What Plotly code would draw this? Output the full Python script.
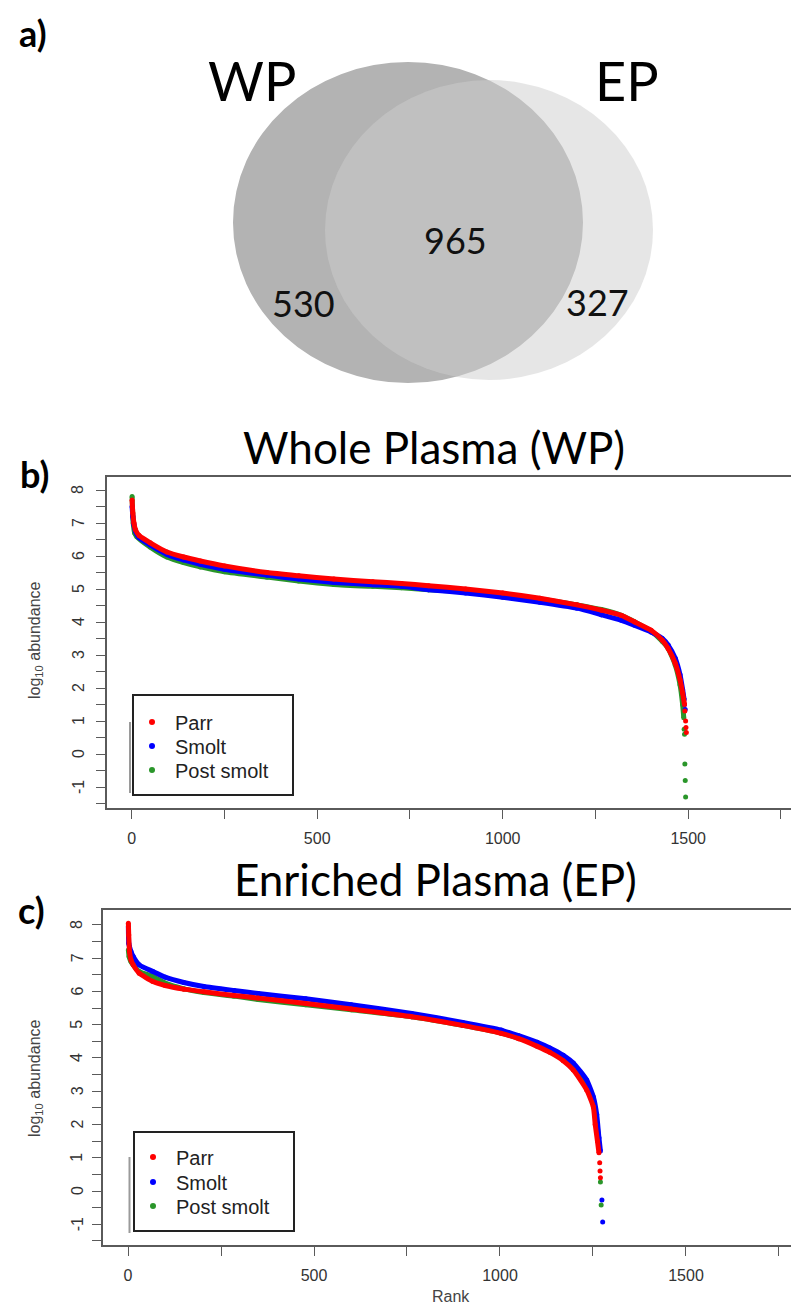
import plotly.graph_objects as go

W, H = 799, 1306
OFF = 8  # page offset of the figure (browser body margin)

# ---------------- data ----------------
venn_names = ["WP", "EP"]
venn_counts = [530, 965, 327]  # WP only, both, EP only

groups = ["Parr", "Smolt", "Post smolt"]
colors = ["#ff0000", "#0000ff", "#2a962a"]

# Panel b: Whole Plasma (rank, log10 abundance)
wp_rank_parr = [1, 3, 6, 10, 20, 50, 95, 140, 185, 250, 365, 450, 545, 650, 727, 800, 900, 1000, 1100, 1200, 1266, 1320, 1356, 1400, 1430, 1446, 1465, 1478, 1485, 1490]
wp_parr = [7.7, 7.3, 7.0, 6.8, 6.62, 6.4, 6.12, 5.97, 5.85, 5.7, 5.5, 5.4, 5.3, 5.22, 5.17, 5.1, 5.0, 4.88, 4.72, 4.52, 4.36, 4.2, 4.0, 3.75, 3.45, 3.2, 2.75, 2.25, 1.85, 1.5]
wp_tail_rank_parr = [1491, 1493, 1494, 1495]
wp_tail_parr = [1.3, 1.0, 0.8, 0.65]

wp_rank_smolt = [1, 3, 6, 10, 20, 50, 95, 140, 185, 250, 365, 450, 545, 650, 727, 800, 900, 1000, 1100, 1200, 1266, 1320, 1356, 1400, 1430, 1446, 1465, 1478, 1485, 1489]
wp_smolt = [7.5, 7.2, 6.95, 6.75, 6.55, 6.33, 6.05, 5.88, 5.75, 5.6, 5.42, 5.3, 5.2, 5.13, 5.08, 4.98, 4.88, 4.75, 4.6, 4.42, 4.22, 4.05, 3.9, 3.7, 3.5, 3.3, 2.9, 2.4, 1.95, 1.65]
wp_tail_rank_smolt = [1490, 1492]
wp_tail_smolt = [1.5, 1.35]

wp_rank_post = [1, 2, 4, 8, 14, 50, 95, 140, 185, 250, 365, 450, 545, 650, 727, 800, 900, 1000, 1100, 1200, 1266, 1320, 1356, 1400, 1430, 1446, 1465, 1478, 1485, 1488]
wp_post = [7.8, 7.5, 7.0, 6.7, 6.58, 6.27, 5.97, 5.8, 5.67, 5.52, 5.36, 5.24, 5.14, 5.08, 5.04, 4.98, 4.92, 4.82, 4.7, 4.52, 4.38, 4.2, 4.0, 3.72, 3.42, 3.2, 2.7, 2.1, 1.5, 1.1]
wp_tail_rank_post = [1489, 1490, 1491, 1492, 1493]
wp_tail_post = [0.75, 0.6, -0.3, -0.8, -1.3]

# Panel c: Enriched Plasma
ep_rank_parr = [1, 2, 4, 8, 14, 30, 67, 100, 150, 204, 285, 350, 478, 600, 763, 900, 1003, 1050, 1100, 1134, 1170, 1197, 1233, 1251, 1256, 1262, 1266]
ep_parr = [8.05, 7.7, 7.2, 6.95, 6.8, 6.55, 6.3, 6.18, 6.07, 5.99, 5.88, 5.8, 5.64, 5.47, 5.24, 4.98, 4.74, 4.58, 4.35, 4.17, 3.92, 3.64, 3.04, 2.53, 2.0, 1.5, 1.15]
ep_tail_rank_parr = [1268, 1269, 1270]
ep_tail_parr = [0.85, 0.6, 0.4]

ep_rank_smolt = [1, 2, 4, 8, 14, 30, 67, 100, 150, 204, 285, 350, 478, 600, 763, 900, 1003, 1050, 1100, 1134, 1170, 1197, 1233, 1251, 1260, 1266, 1270]
ep_smolt = [7.95, 7.45, 7.35, 7.2, 7.05, 6.8, 6.6, 6.43, 6.27, 6.15, 6.03, 5.94, 5.78, 5.6, 5.34, 5.07, 4.84, 4.67, 4.47, 4.3, 4.08, 3.85, 3.34, 2.83, 2.3, 1.6, 1.2]
ep_tail_rank_smolt = [1274, 1276]
ep_tail_smolt = [-0.27, -0.93]

ep_rank_post = [1, 3, 8, 14, 30, 67, 100, 150, 204, 285, 350, 478, 600, 763, 900, 1003, 1050, 1100, 1134, 1170, 1197, 1233, 1251, 1262, 1266]
ep_post = [7.25, 7.05, 6.9, 6.8, 6.6, 6.45, 6.25, 6.08, 5.97, 5.86, 5.76, 5.6, 5.45, 5.24, 4.98, 4.75, 4.6, 4.4, 4.2, 4.0, 3.78, 3.2, 2.6, 1.9, 1.3]
ep_tail_rank_post = [1270, 1272]
ep_tail_post = [0.27, -0.42]

x_major = [0, 500, 1000, 1500]
x_minor = [250, 750, 1250, 1750]
y_tickvals = [-1.5, -1, -0.5, 0, 0.5, 1, 1.5, 2, 2.5, 3, 3.5, 4, 4.5, 5, 5.5, 6, 6.5, 7, 7.5, 8]
y_labels = [-1, 0, 1, 2, 3, 4, 5, 6, 7, 8]


def fx(px):
    return (px - OFF) / W


def fy(py):
    return 1 - (py - OFF) / H


fig = go.Figure()

panels = [
    ("x", "y",
     [(wp_rank_parr, wp_parr, wp_tail_rank_parr, wp_tail_parr),
      (wp_rank_smolt, wp_smolt, wp_tail_rank_smolt, wp_tail_smolt),
      (wp_rank_post, wp_post, wp_tail_rank_post, wp_tail_post)]),
    ("x2", "y2",
     [(ep_rank_parr, ep_parr, ep_tail_rank_parr, ep_tail_parr),
      (ep_rank_smolt, ep_smolt, ep_tail_rank_smolt, ep_tail_smolt),
      (ep_rank_post, ep_post, ep_tail_rank_post, ep_tail_post)]),
]

for xa, ya, series in panels:
    # draw post smolt first, parr last (on top)
    for i in [2, 1, 0]:
        r, v, tr, tv = series[i]
        fig.add_trace(go.Scatter(
            x=r, y=v, mode="lines+markers", xaxis=xa, yaxis=ya, name=groups[i],
            line=dict(color=colors[i], width=5, shape="spline", smoothing=0.5),
            marker=dict(color=colors[i], size=5),
            showlegend=False, hoverinfo="skip"))
        fig.add_trace(go.Scatter(
            x=tr, y=tv, mode="markers", xaxis=xa, yaxis=ya, name=groups[i],
            marker=dict(color=colors[i], size=5),
            showlegend=False, hoverinfo="skip"))

axis_common = dict(
    showline=True, linecolor="#5a5a5a", linewidth=1.6,
    ticks="outside", ticklen=9, tickwidth=1.3, tickcolor="#5a5a5a",
    showgrid=False, zeroline=False,
    tickfont=dict(family="Liberation Sans", size=16, color="#333333"),
)
minor_x = dict(tickvals=x_minor, ticks="outside", ticklen=9, tickwidth=1.3, tickcolor="#5a5a5a", showgrid=False)

# px per rank unit: b 0.371 (0 at 131.7), c 0.372 (0 at 128); right edge of figure at page px 807
fig.update_layout(
    width=W, height=H,
    margin=dict(l=0, r=0, t=0, b=0),
    paper_bgcolor="white", plot_bgcolor="white",
    showlegend=False,
    xaxis=dict(domain=[fx(107), 1], range=[-66.6, 1820.2], anchor="y", mirror=True,
               tickvals=x_major, minor=minor_x, ticklabelstandoff=6, **axis_common),
    yaxis=dict(domain=[fy(808), fy(477)], range=[-1.636, 8.394], anchor="x",
               tickvals=y_tickvals, showticklabels=False, **axis_common),
    xaxis2=dict(domain=[fx(103), 1], range=[-67.2, 1825.3], anchor="y2", mirror=True,
                tickvals=x_major, minor=minor_x, ticklabelstandoff=6, **axis_common),
    yaxis2=dict(domain=[fy(1245), fy(910)], range=[-1.624, 8.45], anchor="x2",
                tickvals=y_tickvals, showticklabels=False, **axis_common),
)

# Venn diagram (panel a)
shapes = [
    dict(type="circle", xref="paper", yref="paper",
         x0=fx(233), x1=fx(583), y0=fy(383), y1=fy(62),
         fillcolor="#b3b3b3", line=dict(width=0), layer="below"),
    dict(type="circle", xref="paper", yref="paper",
         x0=fx(325), x1=fx(653), y0=fy(380), y1=fy(80),
         fillcolor="rgba(206,206,206,0.5)", line=dict(width=0), layer="below"),
    # small gray artefact lines beside the legends
    dict(type="line", xref="paper", yref="paper", x0=fx(130), x1=fx(130), y0=fy(722), y1=fy(793),
         line=dict(color="#9a9a9a", width=2)),
    dict(type="line", xref="paper", yref="paper", x0=fx(129.5), x1=fx(129.5), y0=fy(1157), y1=fy(1233),
         line=dict(color="#9a9a9a", width=2)),
]

ann = []

# rotated y tick labels (R style, parallel to the axis)
for ya, lx in [("y", 78), ("y2", 77)]:
    for v in y_labels:
        ann.append(dict(text=str(v), x=fx(lx), y=v, yref=ya, textangle=-90,
                        font=dict(family="Liberation Sans", size=16, color="#333333")))

# legends (drawn by hand to match the R legend box)
legend_boxes = [(133, 293, 695, 795, [722, 746, 770]), (134, 294, 1132, 1231, [1157, 1182, 1206])]
for x0, x1, y0, y1, rows in legend_boxes:
    shapes.append(dict(type="rect", xref="paper", yref="paper", x0=fx(x0), x1=fx(x1), y0=fy(y1), y1=fy(y0),
                       line=dict(color="#222222", width=2), fillcolor="white"))
    for i, ry in enumerate(rows):
        shapes.append(dict(type="circle", xref="paper", yref="paper",
                           x0=fx(x0 + 16), x1=fx(x0 + 22), y0=fy(ry + 3), y1=fy(ry - 3),
                           fillcolor=colors[i], line=dict(width=0)))
        ann.append(dict(text=groups[i], x=fx(x0 + 40), y=fy(ry + 1), xanchor="left",
                        font=dict(family="Liberation Sans", size=20, color="#222222")))

fig.update_layout(shapes=shapes)

title_font = "Lato"
ann.append(dict(text="<b>a)</b>", x=fx(33), y=fy(33), font=dict(family=title_font, size=36, color="black")))
ann.append(dict(text="<b>b)</b>", x=fx(34), y=fy(474), font=dict(family=title_font, size=36, color="black")))
ann.append(dict(text="<b>c)</b>", x=fx(31), y=fy(910), font=dict(family=title_font, size=36, color="black")))
ann.append(dict(text=venn_names[0], x=fx(252), y=fy(80), font=dict(family=title_font, size=54, color="black")))
ann.append(dict(text=venn_names[1], x=fx(627), y=fy(80), font=dict(family=title_font, size=54, color="black")))
ann.append(dict(text=str(venn_counts[0]), x=fx(303), y=fy(303), font=dict(family=title_font, size=36, color="#111111")))
ann.append(dict(text=str(venn_counts[1]), x=fx(455), y=fy(240), font=dict(family=title_font, size=36, color="#111111")))
ann.append(dict(text=str(venn_counts[2]), x=fx(597), y=fy(302), font=dict(family=title_font, size=36, color="#111111")))
ann.append(dict(text="Whole Plasma (WP)", x=fx(434), y=fy(447), font=dict(family=title_font, size=44, color="black")))
ann.append(dict(text="Enriched Plasma (EP)", x=fx(435), y=fy(879), font=dict(family=title_font, size=44, color="black")))
ann.append(dict(text="log<sub>10</sub> abundance", x=fx(35), y=fy(640), textangle=-90,
                font=dict(family="Liberation Sans", size=16, color="#444444")))
ann.append(dict(text="log<sub>10</sub> abundance", x=fx(35), y=fy(1078), textangle=-90,
                font=dict(family="Liberation Sans", size=16, color="#444444")))
ann.append(dict(text="Rank", x=fx(451), y=fy(1296), font=dict(family="Liberation Sans", size=16, color="#444444")))

for a in ann:
    a.setdefault("xanchor", "center")
    a.setdefault("yref", "paper")
    a.update(xref="paper", showarrow=False, yanchor="middle")
fig.update_layout(annotations=ann)

fig.write_html("out.html")
